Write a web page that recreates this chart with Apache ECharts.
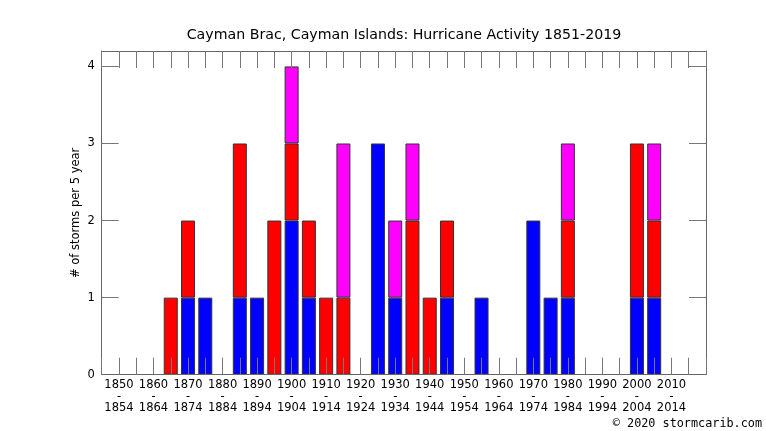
<!DOCTYPE html>
<html>
<head>
<meta charset="utf-8">
<script src="https://cdn.jsdelivr.net/npm/echarts@6/dist/echarts.min.js"></script>
<style>
html, body { margin: 0; padding: 0; background: #fff; }
#chart { width: 766px; height: 431px; }
</style>
</head>
<body>
<div id="chart"></div>
<script>
// 5-year bins, start year of each bin
var years = [1850, 1855, 1860, 1865, 1870, 1875, 1880, 1885, 1890, 1895,
             1900, 1905, 1910, 1915, 1920, 1925, 1930, 1935, 1940, 1945,
             1950, 1955, 1960, 1965, 1970, 1975, 1980, 1985, 1990, 1995,
             2000, 2005, 2010, 2015];
// storms per bin, by colour (bottom to top)
var blueVals    = [0, 0, 0, 0, 1, 1, 0, 1, 1, 0, 2, 1, 0, 0, 0, 3, 1, 0, 0, 1,
                   0, 1, 0, 0, 2, 1, 1, 0, 0, 0, 1, 1, 0, 0];
var redVals     = [0, 0, 0, 1, 1, 0, 0, 2, 0, 2, 1, 1, 1, 1, 0, 0, 0, 2, 1, 1,
                   0, 0, 0, 0, 0, 0, 1, 0, 0, 0, 2, 1, 0, 0];
var magentaVals = [0, 0, 0, 0, 0, 0, 0, 0, 0, 0, 1, 0, 0, 2, 0, 0, 1, 1, 0, 0,
                   0, 0, 0, 0, 0, 0, 1, 0, 0, 0, 0, 1, 0, 0];
var yTicks = [0, 1, 2, 3, 4];
// empty half-bin pads at each end of the axis
var padStart = 1845, padEnd = 2020;

var fontName = 'DejaVu Sans';

// axis categories: the bins plus one empty pad on each side
var cats = [String(padStart)];
for (var i = 0; i < years.length; i++) cats.push(String(years[i]));
cats.push(String(padEnd));

function padded(vals) {
	var out = [null];
	for (var i = 0; i < vals.length; i++) out.push(vals[i] ? vals[i] : null);
	out.push(null);
	return out;
}

function barSeries(name, vals, color) {
	return {
		name: name,
		type: 'bar',
		stack: 'storms',
		barWidth: 14,
		data: padded(vals),
		itemStyle: { color: color, borderColor: '#333', borderWidth: 1 },
		silent: true
	};
}

var tickStyle = { show: true, inside: true, length: 17, interval: 0, lineStyle: { color: '#777', width: 1 } };
var lineStyle = { show: true, onZero: false, lineStyle: { color: '#666', width: 1 } };

var myChart = echarts.init(document.getElementById('chart'));
var option = {
	animation: false,
	backgroundColor: '#fff',
	title: {
		text: 'Cayman Brac, Cayman Islands: Hurricane Activity 1851-2019',
		left: 399,
		top: 23,
		textAlign: 'center',
		textStyle: { fontFamily: fontName, fontSize: 14.2, fontWeight: 'normal', color: '#000' }
	},
	grid: { left: 101.7, right: 60, top: 51, bottom: 56.3 },
	xAxis: [
		{
			type: 'category',
			position: 'bottom',
			data: cats,
			boundaryGap: false,
			z: 3,
			axisLine: lineStyle,
			axisTick: tickStyle,
			splitLine: { show: false },
			axisLabel: {
				interval: 0,
				margin: 5,
				fontFamily: fontName,
				fontSize: 11.5,
				lineHeight: 11.5,
				color: '#000',
				formatter: function (v) {
					var y = Number(v);
					if (y % 10 === 0 && y > padStart && y < padEnd - 5) return y + '\n-\n' + (y + 4);
					return '';
				}
			}
		},
		{
			type: 'category',
			position: 'top',
			data: cats,
			boundaryGap: false,
			z: 3,
			axisLine: lineStyle,
			axisTick: tickStyle,
			splitLine: { show: false },
			axisLabel: { show: false }
		}
	],
	yAxis: [
		{
			type: 'value',
			position: 'left',
			min: 0,
			max: 4.2,
			interval: 1,
			axisLine: lineStyle,
			axisTick: tickStyle,
			splitLine: { show: false },
			name: '# of storms per 5 year',
			nameLocation: 'middle',
			nameGap: 20,
			nameMoveOverlap: false,
			nameTextStyle: { fontFamily: fontName, fontSize: 11.5, color: '#000' },
			axisLabel: {
				margin: 7,
				fontFamily: fontName,
				fontSize: 11.5,
				color: '#000',
				formatter: function (v) {
					return yTicks.indexOf(v) >= 0 ? String(v) : '';
				}
			}
		},
		{
			type: 'value',
			position: 'right',
			min: 0,
			max: 4.2,
			interval: 1,
			axisLine: lineStyle,
			axisTick: tickStyle,
			splitLine: { show: false },
			axisLabel: { show: false }
		}
	],
	graphic: [
		{
			type: 'text',
			right: 4,
			bottom: 1,
			style: {
				text: '\u00a9 2020 stormcarib.com',
				font: '11.8px "DejaVu Sans Mono"',
				fill: '#000'
			}
		}
	],
	series: [
		barSeries('blue', blueVals, '#0000ff'),
		barSeries('red', redVals, '#ff0000'),
		barSeries('magenta', magentaVals, '#ff00ff')
	]
};

// 将配置应用到图表上
myChart.setOption(option);
</script>
</body>
</html>
